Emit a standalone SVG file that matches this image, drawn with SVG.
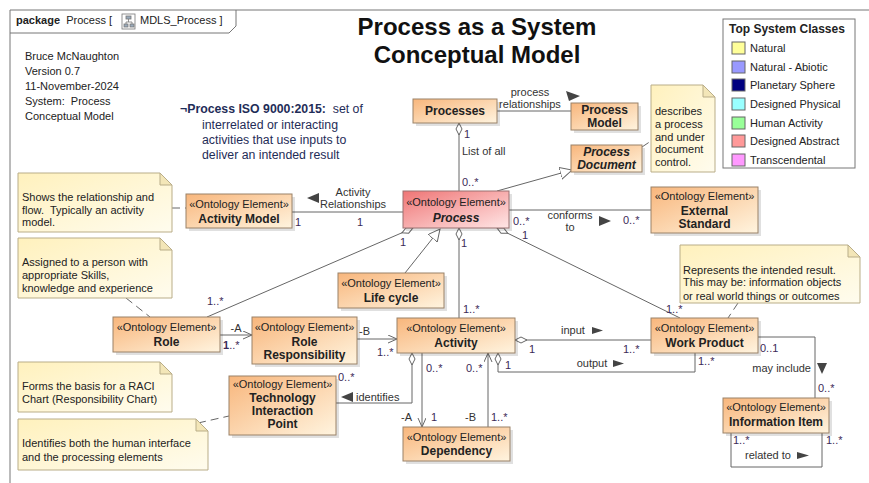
<svg xmlns="http://www.w3.org/2000/svg" width="869" height="483" viewBox="0 0 869 483">
  <defs>
    <linearGradient id="gOrange" x1="0" y1="0" x2="1" y2="1">
      <stop offset="0" stop-color="#f8b67c"/>
      <stop offset="1" stop-color="#fff4df"/>
    </linearGradient>
    <linearGradient id="gPink" x1="0" y1="0" x2="1" y2="1">
      <stop offset="0" stop-color="#ef7575"/>
      <stop offset="1" stop-color="#ffe6e6"/>
    </linearGradient>
    <linearGradient id="gNote" x1="0" y1="0" x2="1" y2="1">
      <stop offset="0" stop-color="#fff1bd"/>
      <stop offset="1" stop-color="#fffcee"/>
    </linearGradient>
    <marker id="open" markerWidth="10" markerHeight="10" refX="9" refY="4" orient="auto" markerUnits="userSpaceOnUse">
      <path d="M0,0 L9,4 L0,8" fill="none" stroke="#666" stroke-width="1"/>
    </marker>
    <marker id="tri" markerWidth="14" markerHeight="14" refX="12" refY="6" orient="auto" markerUnits="userSpaceOnUse">
      <path d="M0,0 L12,6 L0,12 Z" fill="#fff" stroke="#666" stroke-width="1"/>
    </marker>
    <marker id="dia" markerWidth="16" markerHeight="10" refX="1" refY="4" orient="auto" markerUnits="userSpaceOnUse">
      <path d="M1,4 L7,1 L13,4 L7,7 Z" fill="#fff" stroke="#666" stroke-width="1"/>
    </marker>
    <style>
      text { font-family: "Liberation Sans", Arial, sans-serif; font-size: 11px; fill: #222; }
      .st { text-anchor: middle; }
      .nm { text-anchor: middle; font-weight: bold; font-size: 12px; }
      .it { font-style: italic; }
      .mul { fill: #3c2a58; }
      .lbl { fill: #333; }
      .box { fill: url(#gOrange); stroke: #9a8268; stroke-width: 1; }
      .pink { fill: url(#gPink); stroke: #9a7070; stroke-width: 1; }
      .shd { fill: #000; opacity: 0.12; }
      .note { fill: url(#gNote); stroke: #b9ad88; stroke-width: 1; }
      .fold { fill: #f3e6b8; stroke: #b9ad88; stroke-width: 1; }
      .ln { fill: none; stroke: #666; stroke-width: 1; }
      .anc { fill: none; stroke: #666; stroke-width: 1; stroke-dasharray: 8,5; }
      .arw { fill: #444; }
      .def { fill: #1f2d58; font-size: 12.3px; }
      .ttl { text-anchor: middle; font-weight: bold; font-size: 24px; fill: #111; }
      .legt { font-weight: bold; font-size: 12px; }
    </style>
  </defs>

  <rect x="0" y="0" width="869" height="483" fill="#fff"/>

  <!-- package frame -->
  <g id="frame">
    <path d="M10,483 L10,10 L869,10" fill="none" stroke="#777" stroke-width="1"/>
    <path d="M10,33 L229,33 L236,26 L236,10" fill="none" stroke="#777" stroke-width="1"/>
    <text x="16" y="24"><tspan font-weight="bold">package</tspan>&#160; Process [</text>
    <g id="diagram-icon" stroke="#777" stroke-width="0.8" fill="#fff">
      <rect x="122" y="14" width="13" height="15"/>
      <rect x="126" y="16" width="5" height="3" fill="#9ab"/>
      <rect x="124" y="24" width="4" height="3" fill="#9ab"/>
      <rect x="130" y="24" width="4" height="3" fill="#9ab"/>
      <path d="M128.5,19 V22 M126,22 H132 M126,22 V24 M132,22 V24" fill="none"/>
    </g>
    <text x="140" y="24">MDLS_Process ]</text>
  </g>

  <!-- header texts -->
  <g id="author">
    <text x="25" y="60">Bruce McNaughton</text>
    <text x="25" y="75">Version 0.7</text>
    <text x="25" y="90">11-November-2024</text>
    <text x="25" y="105">System:&#160; Process</text>
    <text x="25" y="120">Conceptual Model</text>
  </g>
  <g id="title">
    <text class="ttl" x="477" y="35">Process as a System</text>
    <text class="ttl" x="477" y="63">Conceptual Model</text>
  </g>
  <g id="definition">
    <text class="def" x="180" y="113"><tspan font-weight="bold">¬Process ISO 9000:2015:</tspan>&#160; set of</text>
    <text class="def" x="202" y="129">interrelated or interacting</text>
    <text class="def" x="202" y="144">activities that use inputs to</text>
    <text class="def" x="202" y="159">deliver an intended result</text>
  </g>

  <!-- legend -->
  <g id="legend">
    <rect x="723" y="19" width="132" height="149" fill="#fff" stroke="#777"/>
    <text class="legt" x="729" y="33">Top System Classes</text>
    <rect x="732" y="42" width="13" height="12" fill="#ffff99" stroke="#666"/>
    <text x="750" y="52">Natural</text>
    <rect x="732" y="61" width="13" height="12" fill="#9999ff" stroke="#666"/>
    <text x="750" y="71">Natural - Abiotic</text>
    <rect x="732" y="79" width="13" height="12" fill="#000080" stroke="#666"/>
    <text x="750" y="89">Planetary Sphere</text>
    <rect x="732" y="98" width="13" height="12" fill="#99ffff" stroke="#666"/>
    <text x="750" y="108">Designed Physical</text>
    <rect x="732" y="117" width="13" height="12" fill="#99ff99" stroke="#666"/>
    <text x="750" y="127">Human Activity</text>
    <rect x="732" y="135" width="13" height="12" fill="#ff9999" stroke="#666"/>
    <text x="750" y="145">Designed Abstract</text>
    <rect x="732" y="154" width="13" height="12" fill="#ff99ff" stroke="#666"/>
    <text x="750" y="164">Transcendental</text>
  </g>

  <!-- connectors -->
  <g id="connectors">
    <!-- Processes - Process Model -->
    <path class="ln" d="M497,111 L571,111"/>
    <text class="lbl st" x="530" y="96">process</text>
    <text class="lbl st" x="530" y="108">relationships</text>
    <polygon class="arw" points="566,91 580,96 569,101"/>
    <!-- Processes <>- Process -->
    <path class="ln" d="M459,123 L459,191" marker-start="url(#dia)"/>
    <text class="mul" x="464" y="138">1</text>
    <text class="lbl" x="462" y="155">List of all</text>
    <text class="mul" x="462" y="186">0..*</text>
    <!-- Process generalizes Process Document -->
    <path class="ln" d="M497,191 L572,170" marker-end="url(#tri)"/>
    <!-- Activity Model - Process -->
    <path class="ln" d="M292,212 L403,212"/>
    <text class="lbl st" x="353" y="196">Activity</text>
    <text class="lbl st" x="353" y="208">Relationships</text>
    <polygon class="arw" points="307,198 319,193 319,203"/>
    <text class="mul" x="295" y="226">1</text>
    <text class="mul" x="357" y="226">1</text>
    <!-- Process - External Standard -->
    <path class="ln" d="M509,210 L651,210"/>
    <text class="mul" x="513" y="225">0..*</text>
    <text class="mul" x="522" y="239">1</text>
    <text class="lbl st" x="570" y="219">conforms</text>
    <text class="lbl st" x="570" y="231">to</text>
    <polygon class="arw" points="599,216 611,221 599,226"/>
    <text class="mul" x="623" y="224">0..*</text>
    <!-- Process <>- Role -->
    <path class="ln" d="M413,228 L207,317" marker-start="url(#dia)"/>
    <text class="mul" x="400" y="246">1</text>
    <text class="mul" x="207" y="305">1..*</text>
    <!-- Life cycle generalizes Process -->
    <path class="ln" d="M405,273 L440,229" marker-end="url(#tri)"/>
    <!-- Process <>- Activity -->
    <path class="ln" d="M459,228 L459,318" marker-start="url(#dia)"/>
    <text class="mul" x="461" y="247">1</text>
    <text class="mul" x="463" y="313">1..*</text>
    <!-- Process <>- Work Product -->
    <path class="ln" d="M497,228 L680,318" marker-start="url(#dia)"/>
    <text class="mul" x="666" y="313">1..*</text>
    <!-- Role -> Role Responsibility -->
    <path class="ln" d="M220,335 L252,335" marker-end="url(#open)"/>
    <text class="lbl st" x="236" y="332">-A</text>
    <text class="mul" x="223" y="349"><tspan font-weight="bold">1</tspan>..*</text>
    <!-- Role Responsibility -> Activity -->
    <path class="ln" d="M357,339 L397,339" marker-end="url(#open)"/>
    <text class="lbl" x="359" y="335">-B</text>
    <text class="mul" x="377" y="356">1..*</text>
    <!-- Activity <>- Work Product : input -->
    <path class="ln" d="M515,340 L651,340" marker-start="url(#dia)"/>
    <text class="lbl st" x="573" y="334">input</text>
    <polygon class="arw" points="592,327 603,330.5 592,334"/>
    <text class="mul" x="529" y="353">1</text>
    <text class="mul" x="623" y="353">1..*</text>
    <!-- Activity <>- Work Product : output -->
    <path class="ln" d="M498,353 L498,372 L695,372 L695,353" marker-start="url(#dia)"/>
    <text class="mul" x="505" y="369">1</text>
    <text class="lbl st" x="592" y="367">output</text>
    <polygon class="arw" points="613,360 624,363.5 613,367"/>
    <text class="mul" x="698" y="365">1..*</text>
    <!-- Activity <>- Technology Interaction Point -->
    <path class="ln" d="M412,353 L412,403 L336,403" marker-start="url(#dia)"/>
    <polygon class="arw" points="341,397 353,392 353,402"/>
    <text class="lbl" x="356" y="401">identifies</text>
    <text class="mul" x="338" y="381">0..*</text>
    <!-- Activity -> Dependency (-A) -->
    <path class="ln" d="M422,353 L422,427" marker-end="url(#open)"/>
    <text class="mul" x="426" y="372">0..*</text>
    <text class="lbl" x="401" y="421">-A</text>
    <text class="mul" x="431" y="421">1</text>
    <!-- Dependency -> Activity (-B) -->
    <path class="ln" d="M488,427 L488,353" marker-end="url(#open)"/>
    <text class="mul" x="466" y="372">0..*</text>
    <text class="lbl" x="465" y="421">-B</text>
    <text class="mul" x="491" y="421">1..*</text>
    <!-- Work Product - Information Item -->
    <path class="ln" d="M758,337 L815,337 L815,398"/>
    <text class="mul" x="760" y="352">0..1</text>
    <text class="lbl" x="811" y="372" text-anchor="end">may include</text>
    <polygon class="arw" points="817,363 827,363 822,374"/>
    <text class="mul" x="818" y="392">0..*</text>
    <!-- Information Item self association -->
    <path class="ln" d="M731,433 L731,467 L822,467 L822,433"/>
    <text class="mul" x="733" y="444">1..*</text>
    <text class="mul" x="826" y="444">1..*</text>
    <text class="lbl" x="745" y="459">related to</text>
    <polygon class="arw" points="797,452 809,455.5 797,459"/>
    <!-- note anchors -->
    <path class="anc" d="M172,208 L186,208"/>
    <path class="anc" d="M126,298 L150,317"/>
    <path class="anc" d="M198,423 L229,416"/>
    <path class="anc" d="M642,147 L651,141"/>
    <path class="anc" d="M738,303 L728,318"/>
  </g>

  <!-- nodes -->
  <g id="processes">
    <rect class="shd" x="416" y="102" width="84" height="24"/>
    <rect class="box" x="413" y="99" width="84" height="24"/>
    <text class="nm" x="455" y="115">Processes</text>
  </g>
  <g id="process-model">
    <rect class="shd" x="574" y="106" width="67" height="27"/>
    <rect class="box" x="571" y="103" width="67" height="27"/>
    <text class="nm" x="604.5" y="114">Process</text>
    <text class="nm" x="604.5" y="127">Model</text>
  </g>
  <g id="process-document">
    <rect class="shd" x="574" y="148" width="71" height="27"/>
    <rect class="box" x="571" y="145" width="71" height="27"/>
    <text class="nm it" x="606.5" y="156">Process</text>
    <text class="nm it" x="606.5" y="169">Document</text>
  </g>
  <g id="activity-model">
    <rect class="shd" x="189" y="197" width="106" height="34"/>
    <rect class="box" x="186" y="194" width="106" height="34"/>
    <text class="st" x="239" y="208">«Ontology Element»</text>
    <text class="nm" x="239" y="223">Activity Model</text>
  </g>
  <g id="process">
    <rect class="shd" x="406" y="194" width="106" height="37"/>
    <rect class="pink" x="403" y="191" width="106" height="37"/>
    <text class="st" x="456" y="206">«Ontology Element»</text>
    <text class="nm it" x="456" y="222">Process</text>
  </g>
  <g id="external-standard">
    <rect class="shd" x="654" y="190" width="107" height="46"/>
    <rect class="box" x="651" y="187" width="107" height="46"/>
    <text class="st" x="704.5" y="200">«Ontology Element»</text>
    <text class="nm" x="704.5" y="215">External</text>
    <text class="nm" x="704.5" y="228">Standard</text>
  </g>
  <g id="life-cycle">
    <rect class="shd" x="341" y="276" width="106" height="35"/>
    <rect class="box" x="338" y="273" width="106" height="35"/>
    <text class="st" x="391" y="287">«Ontology Element»</text>
    <text class="nm" x="391" y="302">Life cycle</text>
  </g>
  <g id="role">
    <rect class="shd" x="116" y="320" width="107" height="35"/>
    <rect class="box" x="113" y="317" width="107" height="35"/>
    <text class="st" x="166.5" y="331">«Ontology Element»</text>
    <text class="nm" x="166.5" y="346">Role</text>
  </g>
  <g id="role-responsibility">
    <rect class="shd" x="255" y="320" width="105" height="47"/>
    <rect class="box" x="252" y="317" width="105" height="47"/>
    <text class="st" x="304.5" y="331">«Ontology Element»</text>
    <text class="nm" x="304.5" y="346">Role</text>
    <text class="nm" x="304.5" y="359">Responsibility</text>
  </g>
  <g id="activity">
    <rect class="shd" x="400" y="321" width="118" height="35"/>
    <rect class="box" x="397" y="318" width="118" height="35"/>
    <text class="st" x="456" y="332">«Ontology Element»</text>
    <text class="nm" x="456" y="347">Activity</text>
  </g>
  <g id="work-product">
    <rect class="shd" x="654" y="321" width="107" height="35"/>
    <rect class="box" x="651" y="318" width="107" height="35"/>
    <text class="st" x="704.5" y="332">«Ontology Element»</text>
    <text class="nm" x="704.5" y="347">Work Product</text>
  </g>
  <g id="technology-interaction-point">
    <rect class="shd" x="232" y="379" width="107" height="59"/>
    <rect class="box" x="229" y="376" width="107" height="59"/>
    <text class="st" x="282.5" y="388">«Ontology Element»</text>
    <text class="nm" x="282.5" y="402">Technology</text>
    <text class="nm" x="282.5" y="415">Interaction</text>
    <text class="nm" x="282.5" y="428">Point</text>
  </g>
  <g id="dependency">
    <rect class="shd" x="406" y="430" width="107" height="34"/>
    <rect class="box" x="403" y="427" width="107" height="34"/>
    <text class="st" x="456.5" y="441">«Ontology Element»</text>
    <text class="nm" x="456.5" y="455">Dependency</text>
  </g>
  <g id="information-item">
    <rect class="shd" x="726" y="401" width="106" height="35"/>
    <rect class="box" x="723" y="398" width="106" height="35"/>
    <text class="st" x="776" y="411">«Ontology Element»</text>
    <text class="nm" x="776" y="426">Information Item</text>
  </g>

  <!-- notes -->
  <g id="note-activity-model">
    <path class="note" d="M18,173 L160,173 L172,185 L172,232 L18,232 Z"/>
    <path class="fold" d="M160,173 L160,185 L172,185 Z"/>
    <text x="22" y="201">Shows the relationship and</text>
    <text x="22" y="214">flow.&#160; Typically an activity</text>
    <text x="22" y="226">model.</text>
  </g>
  <g id="note-role">
    <path class="note" d="M18,238 L160,238 L172,250 L172,298 L18,298 Z"/>
    <path class="fold" d="M160,238 L160,250 L172,250 Z"/>
    <text x="22" y="266">Assigned to a person with</text>
    <text x="22" y="279">appropriate Skills,</text>
    <text x="22" y="292">knowledge and experience</text>
  </g>
  <g id="note-raci">
    <path class="note" d="M18,362 L160,362 L172,374 L172,412 L18,412 Z"/>
    <path class="fold" d="M160,362 L160,374 L172,374 Z"/>
    <text x="22" y="390">Forms the basis for a RACI</text>
    <text x="22" y="403">Chart (Responsibility Chart)</text>
  </g>
  <g id="note-tip">
    <path class="note" d="M18,419 L196,419 L208,431 L208,470 L18,470 Z"/>
    <path class="fold" d="M196,419 L196,431 L208,431 Z"/>
    <text x="22" y="447">Identifies both the human interface</text>
    <text x="22" y="461">and the processing elements</text>
  </g>
  <g id="note-process-document">
    <path class="note" d="M651,85 L703,85 L715,97 L715,172 L651,172 Z"/>
    <path class="fold" d="M703,85 L703,97 L715,97 Z"/>
    <text x="655" y="115">describes</text>
    <text x="655" y="128">a process</text>
    <text x="655" y="141">and under</text>
    <text x="655" y="153">document</text>
    <text x="655" y="166">control.</text>
  </g>
  <g id="note-work-product">
    <path class="note" d="M680,245 L848,245 L860,257 L860,303 L680,303 Z"/>
    <path class="fold" d="M848,245 L848,257 L860,257 Z"/>
    <text x="683" y="274">Represents the intended result.</text>
    <text x="683" y="286">This may be: information objects</text>
    <text x="683" y="300">or real world things or outcomes</text>
  </g>
</svg>
